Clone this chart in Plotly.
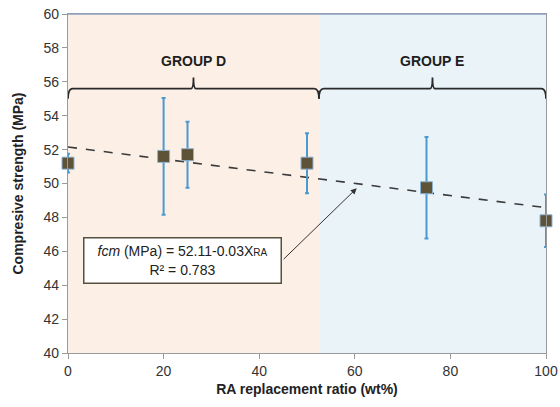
import numpy as np
import plotly.graph_objects as go

# ---- data ----
ra_ratio = [0, 20, 25, 50, 75, 100]
strength = [51.2, 51.6, 51.7, 51.2, 49.75, 47.8]
err = [0.55, 3.45, 1.95, 1.77, 3.0, 1.55]
group_names = ["GROUP D", "GROUP E"]
group_bounds = [(0, 52.5), (52.5, 100)]
eq_text = "<i>fcm</i> (MPa) = 52.11-0.03X<span style='font-size:10px'>RA</span><br>R² = 0.783"
x_ticks = [0, 20, 40, 60, 80, 100]
y_ticks = list(range(40, 61, 2))

FONT = "Liberation Sans, Arial, sans-serif"
bg_colors = ["#FCEFE6", "#E9F3F8"]

fig = go.Figure()

# trend line (least squares fit of data)
slope, intercept = np.polyfit(ra_ratio, strength, 1)
tx = np.array([min(ra_ratio), max(ra_ratio)])
fig.add_trace(go.Scatter(
    x=tx, y=intercept + slope * tx, mode="lines",
    line=dict(color="#3A3A3A", width=1.6, dash="dash"),
    hoverinfo="skip", showlegend=False))

fig.add_trace(go.Scatter(
    x=ra_ratio, y=strength, mode="markers",
    marker=dict(symbol="square", size=12, color="#5E5237",
                line=dict(color="#8DB3D6", width=1)),
    error_y=dict(type="data", array=err, visible=True,
                 color="#4A9AD0", thickness=2, width=2),
    cliponaxis=False, showlegend=False))

shapes = []
for (x0, x1), col in zip(group_bounds, bg_colors):
    shapes.append(dict(type="rect", xref="x", yref="paper", x0=x0, x1=x1,
                       y0=0, y1=1, fillcolor=col, line=dict(width=0),
                       layer="below"))

# braces
y_mid, y_end, y_top = 55.6, 55.0, 56.25
d = 1.0
for (x0, x1) in group_bounds:
    pk = (x0 + x1) / 2
    path = (f"M {x0},{y_end} Q {x0},{y_mid} {x0+d},{y_mid} "
            f"L {pk-d/2},{y_mid} Q {pk},{y_mid} {pk},{y_top} "
            f"Q {pk},{y_mid} {pk+d/2},{y_mid} "
            f"L {x1-d},{y_mid} Q {x1},{y_mid} {x1},{y_end}")
    shapes.append(dict(type="path", xref="x", yref="y", path=path,
                       line=dict(color="#2A2A2A", width=1.8)))

# top border (bluish)
shapes.append(dict(type="line", xref="paper", yref="paper", x0=0, x1=1,
                   y0=1, y1=1, line=dict(color="#8FA2C0", width=1.5)))

annotations = []
for name, (x0, x1) in zip(group_names, group_bounds):
    annotations.append(dict(x=(x0 + x1) / 2, y=57.25, xref="x", yref="y",
                            text=f"<b>{name}</b>", showarrow=False,
                            font=dict(family=FONT, size=14, color="#1E1E1E")))

# equation box
annotations.append(dict(x=24.0, y=45.43, xref="x", yref="y", text=eq_text,
                        showarrow=False, align="center",
                        font=dict(family=FONT, size=14, color="#222222"),
                        bgcolor="white", bordercolor="#55503F", borderwidth=1.5,
                        width=194, height=42))
# arrow from box to trend line
annotations.append(dict(x=60.4, y=49.72, xref="x", yref="y",
                        ax=44.8, ay=45.45, axref="x", ayref="y",
                        text="", showarrow=True, arrowhead=2, arrowsize=1.2,
                        arrowwidth=1, arrowcolor="#333333"))

fig.update_layout(
    width=560, height=407,
    margin=dict(l=68, r=14, t=14, b=54, autoexpand=False),
    paper_bgcolor="white", plot_bgcolor="white",
    shapes=shapes, annotations=annotations,
    font=dict(family=FONT, size=14, color="#333333"),
    xaxis=dict(range=[0, 100], tickvals=x_ticks, showgrid=False, zeroline=False,
               automargin=False,
               showline=True, linecolor="#9A9A9A", linewidth=1.2, mirror=True,
               ticks="outside", ticklen=5, tickcolor="#9A9A9A",
               tickfont=dict(size=14, color="#333333"),
               title=dict(text="<b>RA replacement ratio (wt%)</b>",
                          font=dict(size=14, color="#222222"), standoff=6)),
    yaxis=dict(range=[40, 60], tickvals=y_ticks, showgrid=False, zeroline=False,
               automargin=False,
               showline=True, linecolor="#9A9A9A", linewidth=1.2, mirror=True,
               ticks="outside", ticklen=5, tickcolor="#9A9A9A",
               tickfont=dict(size=14, color="#333333"),
               title=dict(text="<b>Compresive strength (MPa)</b>",
                          font=dict(size=14, color="#222222"), standoff=16)),
)

fig.write_html("out.html")
